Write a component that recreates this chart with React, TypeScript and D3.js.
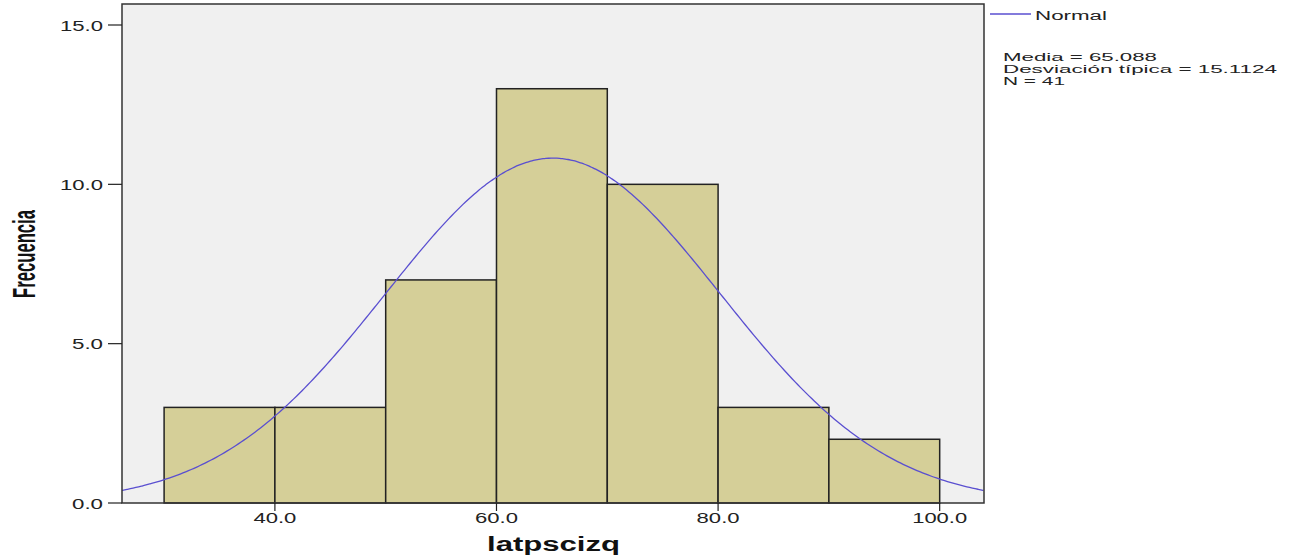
import React from "react";
import * as d3 from "d3";

const binStarts = [30, 40, 50, 60, 70, 80, 90];
const binWidth = 10;
const counts = [3, 3, 7, 13, 10, 3, 2];
const yTicks = [0, 5, 10, 15];
const xTicks = [40, 60, 80, 100];
const mean = 65.088;
const sd = 15.1124;
const n = 41;
const statLines = ["Media = 65.088", "Desviación típica = 15.1124", "N = 41"];
const statWidths = [154, 274, 62];

const W = 1303;
const H = 558;
const left = 122;
const right = 984;
const top = 4;
const bottom = 503;

const font = "Arial, 'Liberation Sans', sans-serif";

function numWidth(s: string) {
  const digits = s.replace(".", "").length;
  return digits * 12 + 7;
}

export default function App() {
  const x = d3.scaleLinear().domain([26.2, 104]).range([left, right]);
  const y = d3.scaleLinear().domain([0, 15]).range([bottom, 25]);
  const pdf = (v: number) =>
    ((n * binWidth) / (sd * Math.sqrt(2 * Math.PI))) * Math.exp(-0.5 * ((v - mean) / sd) ** 2);
  const pts = d3.range(x.domain()[0], x.domain()[1] + 0.001, 0.25).map((v) => [v, pdf(v)] as [number, number]);
  const line = d3.line<[number, number]>().x((d) => x(d[0])).y((d) => y(d[1])).curve(d3.curveBasis);
  return (
    <svg width={W} height={H} style={{ position: "absolute", left: 0, top: 0, background: "#fff" }}>
      <defs>
        <clipPath id="pc">
          <rect x={left} y={top} width={right - left} height={bottom - top} />
        </clipPath>
      </defs>
      <rect x={left} y={top} width={right - left} height={bottom - top} fill="#f0f0f0" />
      {binStarts.map((b, i) => (
        <rect
          key={b}
          x={x(b)}
          y={y(counts[i])}
          width={x(b + binWidth) - x(b)}
          height={bottom - y(counts[i])}
          fill="#d5cf98"
          stroke="#222"
          strokeWidth={1.5}
        />
      ))}
      <path d={line(pts) || ""} fill="none" stroke="#5a4fd0" strokeWidth={1.3} clipPath="url(#pc)" />
      <rect x={left} y={top} width={right - left} height={bottom - top} fill="none" stroke="#333" strokeWidth={1.5} />
      {yTicks.map((t) => {
        const s = t.toFixed(1);
        return (
          <g key={t}>
            <line x1={left - 14} x2={left} y1={y(t)} y2={y(t)} stroke="#222" strokeWidth={1.2} />
            <text
              x={left - 19 - numWidth(s)}
              y={y(t) + 5.5}
              fontFamily={font}
              fontSize={14}
              fill="#222"
              textLength={numWidth(s)}
              lengthAdjust="spacingAndGlyphs"
            >
              {s}
            </text>
          </g>
        );
      })}
      {xTicks.map((t) => {
        const s = t.toFixed(1);
        return (
          <g key={t}>
            <line x1={x(t)} x2={x(t)} y1={bottom} y2={bottom + 8} stroke="#222" strokeWidth={1.2} />
            <text
              x={x(t) - numWidth(s) / 2}
              y={bottom + 20}
              fontFamily={font}
              fontSize={14}
              fill="#222"
              textLength={numWidth(s)}
              lengthAdjust="spacingAndGlyphs"
            >
              {s}
            </text>
          </g>
        );
      })}
      <text
        x={487}
        y={551}
        fontFamily={font}
        fontWeight="bold"
        fontSize={19.5}
        fill="#111"
        textLength={133}
        lengthAdjust="spacingAndGlyphs"
      >
        latpscizq
      </text>
      <text
        transform={`translate(35, 298) rotate(-90)`}
        fontFamily={font}
        fontWeight="bold"
        fontSize={31}
        fill="#111"
        textLength={88}
        lengthAdjust="spacingAndGlyphs"
      >
        Frecuencia
      </text>
      <line x1={990} x2={1031} y1={14} y2={14} stroke="#5a4fd0" strokeWidth={1.3} />
      <text
        x={1035}
        y={20}
        fontFamily={font}
        fontSize={12}
        fill="#222"
        textLength={72}
        lengthAdjust="spacingAndGlyphs"
      >
        Normal
      </text>
      {statLines.map((s, i) => (
        <text
          key={s}
          x={1003}
          y={61 + i * 12}
          fontFamily={font}
          fontSize={11.5}
          fill="#222"
          textLength={statWidths[i]}
          lengthAdjust="spacingAndGlyphs"
        >
          {s}
        </text>
      ))}
    </svg>
  );
}
